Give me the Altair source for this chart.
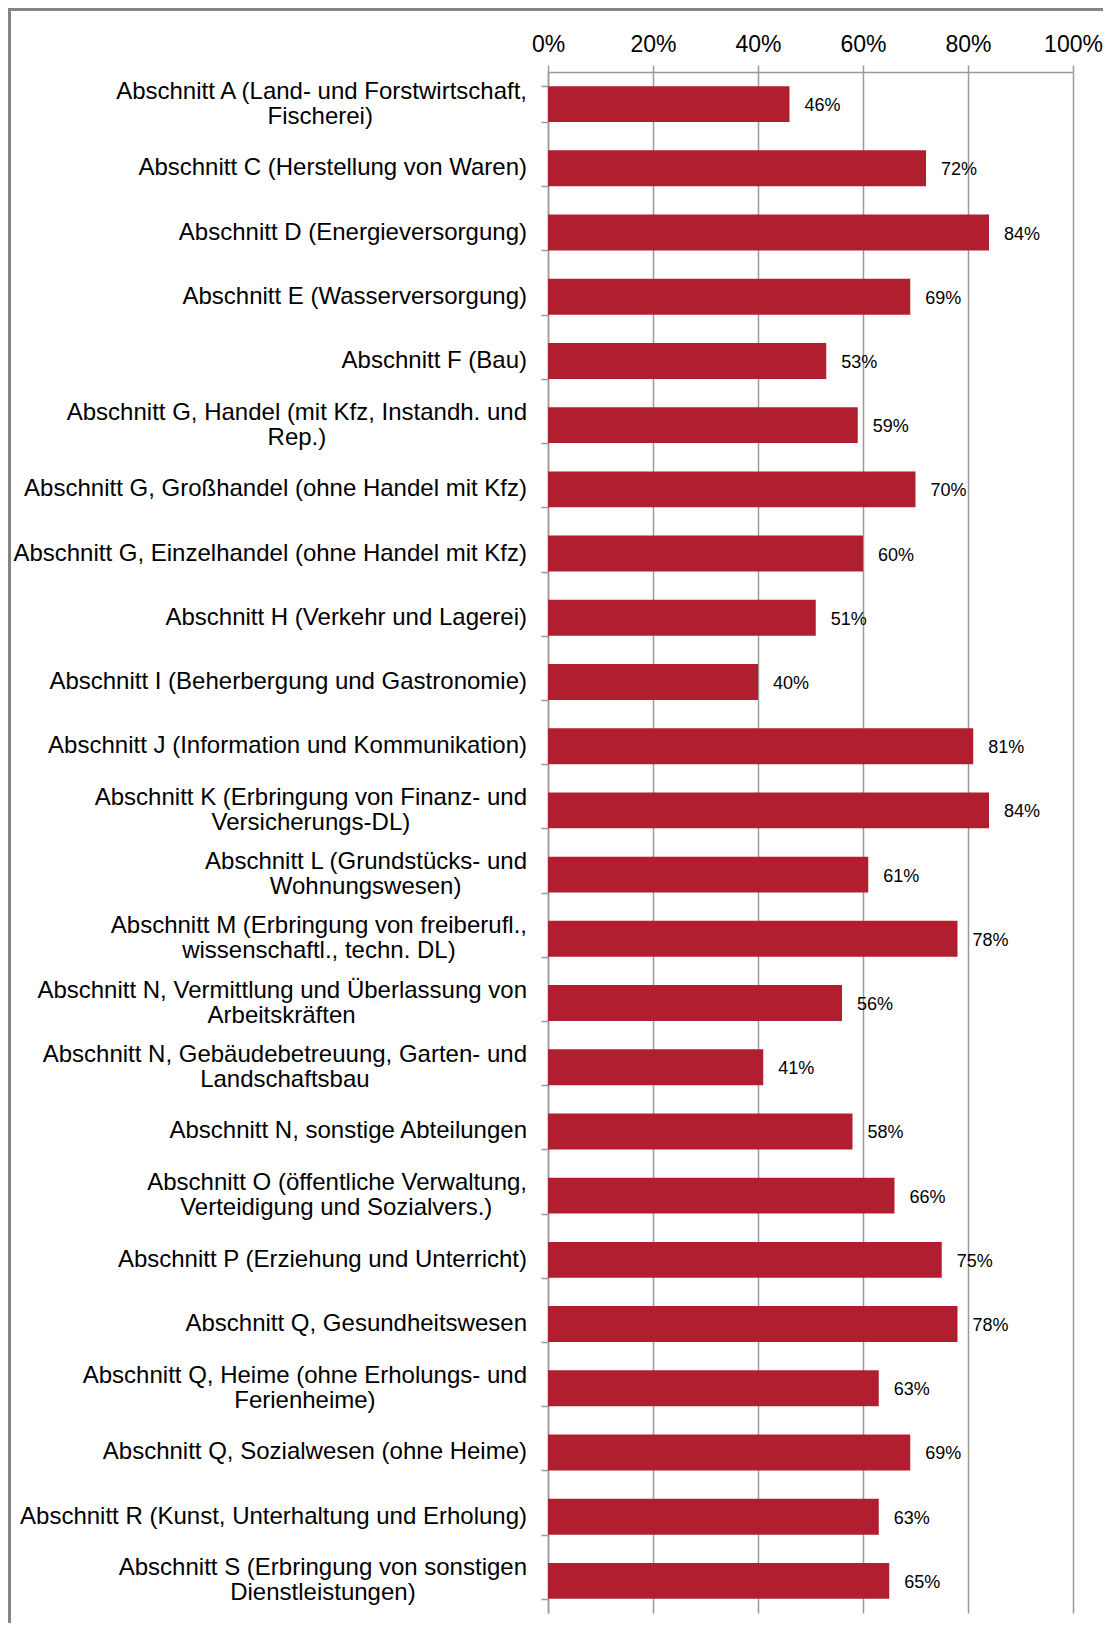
import altair as alt
import pandas as pd

# ---------------- data ----------------
categories = [
    "Abschnitt A (Land- und Forstwirtschaft,|Fischerei)",
    "Abschnitt C (Herstellung von Waren)",
    "Abschnitt D (Energieversorgung)",
    "Abschnitt E (Wasserversorgung)",
    "Abschnitt F (Bau)",
    "Abschnitt G, Handel (mit Kfz, Instandh. und|Rep.)",
    "Abschnitt G, Großhandel (ohne Handel mit Kfz)",
    "Abschnitt G, Einzelhandel (ohne Handel mit Kfz)",
    "Abschnitt H (Verkehr und Lagerei)",
    "Abschnitt I (Beherbergung und Gastronomie)",
    "Abschnitt J (Information und Kommunikation)",
    "Abschnitt K (Erbringung von Finanz- und|Versicherungs-DL)",
    "Abschnitt L (Grundstücks- und|Wohnungswesen)",
    "Abschnitt M (Erbringung von freiberufl.,|wissenschaftl., techn. DL)",
    "Abschnitt N, Vermittlung und Überlassung von|Arbeitskräften",
    "Abschnitt N, Gebäudebetreuung, Garten- und|Landschaftsbau",
    "Abschnitt N, sonstige Abteilungen",
    "Abschnitt O (öffentliche Verwaltung,|Verteidigung und Sozialvers.)",
    "Abschnitt P (Erziehung und Unterricht)",
    "Abschnitt Q, Gesundheitswesen",
    "Abschnitt Q, Heime (ohne Erholungs- und|Ferienheime)",
    "Abschnitt Q, Sozialwesen (ohne Heime)",
    "Abschnitt R (Kunst, Unterhaltung und Erholung)",
    "Abschnitt S (Erbringung von sonstigen|Dienstleistungen)",
]
values_pct = [46, 72, 84, 69, 53, 59, 70, 60, 51, 40, 81, 84,
              61, 78, 56, 41, 58, 66, 75, 78, 63, 69, 63, 65]
tick_values = [0, 0.2, 0.4, 0.6, 0.8, 1.0]

FONT = "Liberation Sans, Arial, Helvetica, sans-serif"
GRID = "#9a9a9a"
BAR = "#B01E2F"
W, H = 525, 1541
LH = 25
LABEL_FS = 24
LABEL_GAP = 21  # tick (7) + padding (14) between label text and the axis

# ---------- second lines of two-line labels are centred under the first line ----------
_W = {' ': 278, '(': 333, ')': 333, ',': 278, '-': 333, '.': 278, 'ß': 611,
      'A': 667, 'B': 667, 'C': 722, 'D': 722, 'E': 667, 'F': 611, 'G': 778, 'H': 722,
      'I': 278, 'J': 500, 'K': 667, 'L': 556, 'M': 833, 'N': 722, 'O': 778, 'P': 667,
      'Q': 778, 'R': 722, 'S': 667, 'T': 611, 'U': 722, 'Ü': 722, 'V': 667, 'W': 944,
      'X': 667, 'Y': 667, 'Z': 611,
      'a': 556, 'ä': 556, 'b': 556, 'c': 500, 'd': 556, 'e': 556, 'f': 278, 'g': 556,
      'h': 556, 'i': 222, 'j': 222, 'k': 500, 'l': 222, 'm': 833, 'n': 556, 'o': 556,
      'ö': 556, 'p': 556, 'q': 556, 'r': 333, 's': 500, 't': 278, 'u': 556, 'ü': 556,
      'v': 500, 'w': 722, 'x': 500, 'y': 500, 'z': 500}


def _tw(s):
    return sum(_W.get(c, 556) for c in s) / 1000 * LABEL_FS


line1 = [c.split("|")[0] for c in categories]
line2 = [c.split("|")[1] if "|" in c else "" for c in categories]
# centre of the first line, expressed in the x scale's units (1.0 == plot width)
centre_x = [(-LABEL_GAP - _tw(l) / 2) / W for l in line1]

df = pd.DataFrame({
    "label": categories,
    "line1": line1,
    "line2": line2,
    "share": [v / 100 for v in values_pct],
    "cx": centre_x,
})

y_scale = alt.Scale(domain=categories, paddingInner=0.44, paddingOuter=0.22)
x_scale = alt.Scale(domain=[0, 1], nice=False)

y_enc = alt.Y(
    "label:N", scale=y_scale,
    axis=alt.Axis(
        title=None, labels=False,
        tickBand="extent", ticks=True, tickSize=7, tickColor=GRID, tickWidth=1.5,
        domain=True, domainColor=GRID, domainWidth=1.5, grid=False,
    ),
)
x_enc = alt.X(
    "share:Q", scale=x_scale,
    axis=alt.Axis(
        title=None, orient="top", values=tick_values, format=".0%",
        labelFont=FONT, labelFontSize=23, labelColor="#000000", labelFlush=False,
        labelPadding=9, ticks=True, tickSize=7, tickColor=GRID, tickWidth=1.5,
        domain=True, domainColor=GRID, domainWidth=1.5,
        grid=True, gridColor=GRID, gridWidth=1.5,
    ),
)
y_plain = alt.Y("label:N", scale=y_scale)

base = alt.Chart(df)
bars = base.mark_bar(color=BAR).encode(x=x_enc, y=y_enc)
values_txt = base.mark_text(align="left", baseline="middle", dx=15, dy=2, font=FONT,
                            fontSize=18, color="#000000").encode(
    x=alt.X("share:Q", scale=x_scale), y=y_plain,
    text=alt.Text("share:Q", format=".0%"))

single = base.transform_filter("datum.line2 == ''").mark_text(
    align="right", baseline="middle", font=FONT, fontSize=LABEL_FS, color="#000000"
).encode(x=alt.value(-LABEL_GAP), y=y_plain, text="line1:N")

first = base.transform_filter("datum.line2 != ''").mark_text(
    align="right", baseline="middle", font=FONT, fontSize=LABEL_FS, color="#000000",
    dy=-LH / 2
).encode(x=alt.value(-LABEL_GAP), y=y_plain, text="line1:N")

second = base.transform_filter("datum.line2 != ''").mark_text(
    align="center", baseline="middle", font=FONT, fontSize=LABEL_FS, color="#000000",
    dy=LH / 2
).encode(x=alt.X("cx:Q", scale=x_scale), y=y_plain, text="line2:N")

frame_src = alt.Chart(alt.Data(values=[{}]))
top_line = frame_src.mark_rule(color="#858585", strokeWidth=3).encode(
    x=alt.value(-540), x2=alt.value(W + 40), y=alt.value(-62.5))
left_line = frame_src.mark_rule(color="#858585", strokeWidth=3).encode(
    x=alt.value(-538.5), y=alt.value(-64), y2=alt.value(H + 12))

chart = alt.layer(bars, values_txt, single, first, second, top_line, left_line).properties(
    width=W, height=H,
    padding={"left": 540, "top": 64, "right": 30, "bottom": 10},
    autosize=alt.AutoSizeParams(type="none"),
    background="#ffffff",
).configure_view(stroke=None)

chart.save("out.html", embed_options={"renderer": "svg", "actions": False})
